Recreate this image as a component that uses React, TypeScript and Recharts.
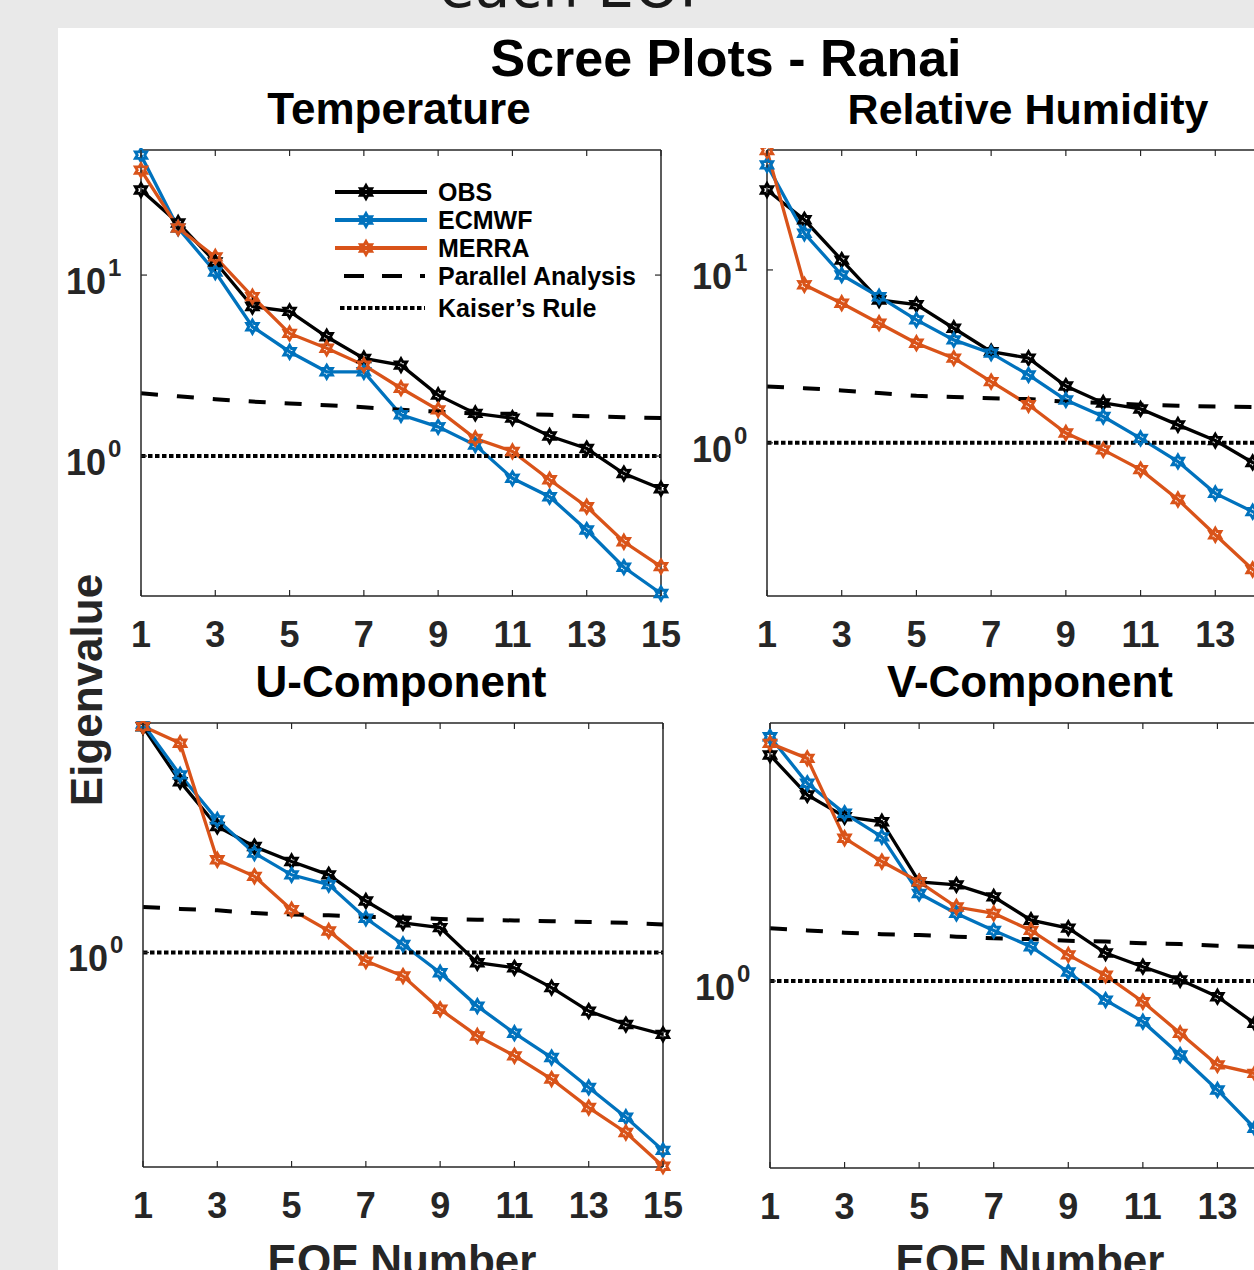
import React from 'react';
import { LineChart, Line, XAxis, YAxis, ReferenceLine, Legend } from 'recharts';

const EOF_NUMBERS = [1, 2, 3, 4, 5, 6, 7, 8, 9, 10, 11, 12, 13, 14, 15];
const X_TICKS = [1, 3, 5, 7, 9, 11, 13, 15];
const KAISER = 1;

// Temperature
const TEMP_OBS = [29.5, 19.4, 11.8, 6.7, 6.3, 4.56, 3.46, 3.18, 2.17, 1.72, 1.62, 1.29, 1.1, 0.8, 0.66];
const TEMP_ECMWF = [46, 18.2, 10.4, 5.18, 3.77, 2.92, 2.92, 1.69, 1.45, 1.15, 0.753, 0.596, 0.39, 0.243, 0.174];
const TEMP_MERRA = [38, 18.2, 12.6, 7.6, 4.76, 3.94, 3.18, 2.37, 1.8, 1.25, 1.06, 0.74, 0.525, 0.336, 0.245];
const TEMP_PA = [2.22, 2.14, 2.06, 2.0, 1.95, 1.91, 1.86, 1.8, 1.76, 1.72, 1.71, 1.69, 1.66, 1.64, 1.62];

// Relative humidity
const RH_OBS = [29, 19.5, 11.4, 6.7, 6.3, 4.6, 3.37, 3.09, 2.13, 1.7, 1.57, 1.27, 1.03, 0.77, 0.62];
const RH_ECMWF = [40.5, 16.3, 9.35, 7.0, 5.14, 3.94, 3.3, 2.47, 1.77, 1.42, 1.06, 0.78, 0.51, 0.4, 0.31];
const RH_MERRA = [49, 8.2, 6.42, 4.92, 3.77, 3.09, 2.26, 1.66, 1.14, 0.91, 0.7, 0.47, 0.294, 0.185, 0.135];
const RH_PA = [2.12, 2.07, 2.01, 1.94, 1.87, 1.84, 1.81, 1.79, 1.73, 1.7, 1.66, 1.64, 1.62, 1.61, 1.59];

// U-component
const U_OBS = [8.77, 5.17, 3.36, 2.77, 2.4, 2.11, 1.64, 1.33, 1.27, 0.906, 0.863, 0.713, 0.569, 0.5, 0.455];
const U_ECMWF = [9.0, 5.52, 3.58, 2.6, 2.11, 1.92, 1.39, 1.08, 0.823, 0.597, 0.46, 0.364, 0.273, 0.205, 0.149];
const U_MERRA = [8.8, 7.48, 2.44, 2.08, 1.51, 1.23, 0.92, 0.797, 0.579, 0.448, 0.37, 0.296, 0.225, 0.177, 0.128];
const U_PA = [1.55, 1.52, 1.5, 1.46, 1.44, 1.43, 1.41, 1.4, 1.38, 1.37, 1.36, 1.35, 1.34, 1.33, 1.31];

// V-component
const V_OBS = [6.87, 4.89, 4.06, 3.89, 2.33, 2.27, 2.05, 1.68, 1.57, 1.27, 1.13, 1.01, 0.875, 0.697, 0.6];
const V_ECMWF = [8.03, 5.4, 4.18, 3.42, 2.11, 1.78, 1.54, 1.34, 1.08, 0.85, 0.707, 0.532, 0.395, 0.285, 0.21];
const V_MERRA = [7.59, 6.68, 3.38, 2.77, 2.33, 1.88, 1.78, 1.54, 1.25, 1.05, 0.838, 0.64, 0.489, 0.455, 0.42];
const V_PA = [1.57, 1.54, 1.51, 1.49, 1.48, 1.46, 1.44, 1.43, 1.41, 1.4, 1.38, 1.37, 1.35, 1.34, 1.32];

const OBS_COLOR = '#000000';
const ECMWF_COLOR = '#0072BD';
const MERRA_COLOR = '#D95319';
const AXIS = '#262626';
const FONT = '"Liberation Sans", Arial, Helvetica, sans-serif';

const Y_AXIS_W = 75;
const X_AXIS_H = 70;
const PAD = 2;
const RIGHT_PAD = 30;

const PANELS = [
  { key: 't', obs: TEMP_OBS, ecmwf: TEMP_ECMWF, merra: TEMP_MERRA, pa: TEMP_PA, yDomain: [0.1685, 49.1], yTicks: [1, 10], left: 141, top: 150, width: 520, height: 446, legend: true },
  { key: 'rh', obs: RH_OBS, ecmwf: RH_ECMWF, merra: RH_MERRA, pa: RH_PA, yDomain: [0.13, 49.4], yTicks: [1, 10], left: 767, top: 150, width: 523, height: 446, legend: false },
  { key: 'u', obs: U_OBS, ecmwf: U_ECMWF, merra: U_MERRA, pa: U_PA, yDomain: [0.127, 9.09], yTicks: [1], left: 143, top: 723, width: 520, height: 444, legend: false },
  { key: 'v', obs: V_OBS, ecmwf: V_ECMWF, merra: V_MERRA, pa: V_PA, yDomain: [0.203, 9.03], yTicks: [1], left: 770, top: 723, width: 522, height: 445, legend: false },
];

const hexagram = (cx: number, cy: number, r: number) => {
  let d = '';
  for (let k = 0; k < 12; k++) {
    const a = ((-90 + 30 * k) * Math.PI) / 180;
    const rad = k % 2 === 0 ? r : r * 0.577;
    d += (k === 0 ? 'M' : 'L') + (cx + rad * Math.cos(a)).toFixed(2) + ',' + (cy + rad * Math.sin(a)).toFixed(2);
  }
  return d + 'Z';
};

const makeDot = (color: string) => (props: any) => {
  const { cx, cy, index } = props;
  if (cx == null || cy == null) return <g key={`e-${index}`} />;
  return (
    <path key={`h-${index}`} d={hexagram(cx, cy, 6.5)} fill="none" stroke={color} strokeWidth={2.9} />
  );
};

const ScreeLegend = () => {
  const rows = [
    { label: 'OBS', y: 17, color: OBS_COLOR, kind: 'solid' },
    { label: 'ECMWF', y: 45, color: ECMWF_COLOR, kind: 'solid' },
    { label: 'MERRA', y: 73, color: MERRA_COLOR, kind: 'solid' },
    { label: 'Parallel Analysis', y: 101, color: '#000', kind: 'dash' },
    { label: 'Kaiser\u2019s Rule', y: 133, color: '#000', kind: 'dot' },
  ];
  return (
    <svg width={320} height={150} style={{ overflow: 'visible' }}>
      {rows.map((r) => (
        <g key={r.label}>
          {r.kind === 'solid' && (
            <>
              <line x1={5} x2={97} y1={r.y} y2={r.y} stroke={r.color} strokeWidth={3.8} />
              <path d={hexagram(36, r.y, 6.5)} fill="none" stroke={r.color} strokeWidth={2.9} />
            </>
          )}
          {r.kind === 'dash' && (
            <line x1={14} x2={95} y1={r.y} y2={r.y} stroke="#000" strokeWidth={4} strokeDasharray="20 18" />
          )}
          {r.kind === 'dot' && (
            <line x1={10} x2={95} y1={r.y} y2={r.y} stroke="#000" strokeWidth={4} strokeDasharray="4.5 2.5" />
          )}
          <text x={108} y={r.y + 8.5} fontFamily={FONT} fontWeight="bold" fontSize={25} fill="#000">
            {r.label}
          </text>
        </g>
      ))}
    </svg>
  );
};

const ScreePanel = ({ panel }: { panel: any }) => {
  const data = EOF_NUMBERS.map((eof, i) => ({
    eof,
    obs: panel.obs[i],
    ecmwf: panel.ecmwf[i],
    merra: panel.merra[i],
    pa: panel.pa[i],
  }));
  const plotTop = PAD;
  const plotBottom = PAD + panel.height;
  const plotLeft = Y_AXIS_W;
  const plotRight = Y_AXIS_W + panel.width;

  const XTick = (props: any) => {
    const { x, payload } = props;
    return (
      <g>
        <line x1={x} x2={x} y1={plotBottom} y2={plotBottom - 6} stroke={AXIS} strokeWidth={1.2} />
        <line x1={x} x2={x} y1={plotTop} y2={plotTop + 6} stroke={AXIS} strokeWidth={1.2} />
        <text x={x} y={plotBottom + 51} textAnchor="middle" fontFamily={FONT} fontWeight="bold" fontSize={36} fill={AXIS}>
          {payload.value}
        </text>
      </g>
    );
  };

  const YTick = (props: any) => {
    const { y, payload } = props;
    const exp = Math.round(Math.log10(payload.value));
    return (
      <g>
        <line x1={plotLeft} x2={plotLeft + 6} y1={y} y2={y} stroke={AXIS} strokeWidth={1.2} />
        <line x1={plotRight - 6} x2={plotRight} y1={y} y2={y} stroke={AXIS} strokeWidth={1.2} />
        <text x={plotLeft - 35} y={y + 19} textAnchor="end" fontFamily={FONT} fontWeight="bold" fontSize={36} fill={AXIS}>
          10
        </text>
        <text x={plotLeft - 33} y={y + 1} textAnchor="start" fontFamily={FONT} fontWeight="bold" fontSize={24} fill={AXIS}>
          {exp}
        </text>
      </g>
    );
  };

  return (
    <div style={{ position: 'absolute', left: panel.left - Y_AXIS_W, top: panel.top - PAD }}>
      <LineChart
        width={Y_AXIS_W + panel.width + RIGHT_PAD}
        height={PAD + panel.height + X_AXIS_H}
        data={data}
        margin={{ top: PAD, right: RIGHT_PAD, bottom: 0, left: 0 }}
      >
        <XAxis
          dataKey="eof"
          type="number"
          domain={[1, 15]}
          ticks={X_TICKS}
          interval={0}
          height={X_AXIS_H}
          axisLine={{ stroke: AXIS, strokeWidth: 1.5 }}
          tickLine={false}
          tick={XTick}
        />
        <YAxis
          type="number"
          scale="log"
          domain={panel.yDomain}
          ticks={panel.yTicks}
          interval={0}
          width={Y_AXIS_W}
          axisLine={{ stroke: AXIS, strokeWidth: 1.5 }}
          tickLine={false}
          tick={YTick}
        />
        <ReferenceLine y={panel.yDomain[1]} stroke={AXIS} strokeWidth={1.5} />
        <ReferenceLine x={15} stroke={AXIS} strokeWidth={1.5} />
        <Line dataKey="obs" stroke={OBS_COLOR} strokeWidth={3.3} dot={makeDot(OBS_COLOR)} isAnimationActive={false} />
        <Line dataKey="ecmwf" stroke={ECMWF_COLOR} strokeWidth={3.3} dot={makeDot(ECMWF_COLOR)} isAnimationActive={false} />
        <Line dataKey="merra" stroke={MERRA_COLOR} strokeWidth={3.3} dot={makeDot(MERRA_COLOR)} isAnimationActive={false} />
        <Line dataKey="pa" stroke="#000" strokeWidth={4} strokeDasharray="17 19" dot={false} isAnimationActive={false} />
        <ReferenceLine y={KAISER} stroke="#000" strokeWidth={4} strokeDasharray="4.5 2.5" />
        {panel.legend && (
          <Legend
            layout="vertical"
            align="center"
            verticalAlign="middle"
            content={<ScreeLegend />}
            wrapperStyle={{ left: 264, top: 27, width: 320, height: 150 }}
          />
        )}
      </LineChart>
    </div>
  );
};

const App = () => {
  const titleStyle = { fontFamily: FONT, fontWeight: 'bold' as const };
  return (
    <div
      style={{
        position: 'fixed',
        left: 0,
        top: 0,
        width: 1254,
        height: 1270,
        overflow: 'hidden',
        background: '#e9e9e9',
      }}
    >
      <div style={{ position: 'absolute', left: 58, top: 28, width: 1300, height: 1300, background: '#ffffff' }} />
      <svg width={1254} height={1270} style={{ position: 'absolute', left: 0, top: 0 }}>
        <text x={576} y={7} textAnchor="middle" fontFamily='"DejaVu Sans", sans-serif' fontSize={58} fill="#1a1a1a">
          each EOF
        </text>
        <text x={726} y={76} textAnchor="middle" {...titleStyle} fontSize={52} fill="#000">
          Scree Plots - Ranai
        </text>
        <text x={399} y={124} textAnchor="middle" {...titleStyle} fontSize={44} fill="#000">
          Temperature
        </text>
        <text x={1028} y={124} textAnchor="middle" {...titleStyle} fontSize={43} fill="#000">
          Relative Humidity
        </text>
        <text x={401} y={697} textAnchor="middle" {...titleStyle} fontSize={44} fill="#000">
          U-Component
        </text>
        <text x={1030} y={697} textAnchor="middle" {...titleStyle} fontSize={44} fill="#000">
          V-Component
        </text>
        <text transform="translate(102,690) rotate(-90)" textAnchor="middle" {...titleStyle} fontSize={44} fill={AXIS}>
          Eigenvalue
        </text>
        <text x={402} y={1276} textAnchor="middle" {...titleStyle} fontSize={44} fill={AXIS}>
          EOF Number
        </text>
        <text x={1030} y={1276} textAnchor="middle" {...titleStyle} fontSize={44} fill={AXIS}>
          EOF Number
        </text>
      </svg>
      {PANELS.map((p) => (
        <ScreePanel key={p.key} panel={p} />
      ))}
    </div>
  );
};

export default App;
